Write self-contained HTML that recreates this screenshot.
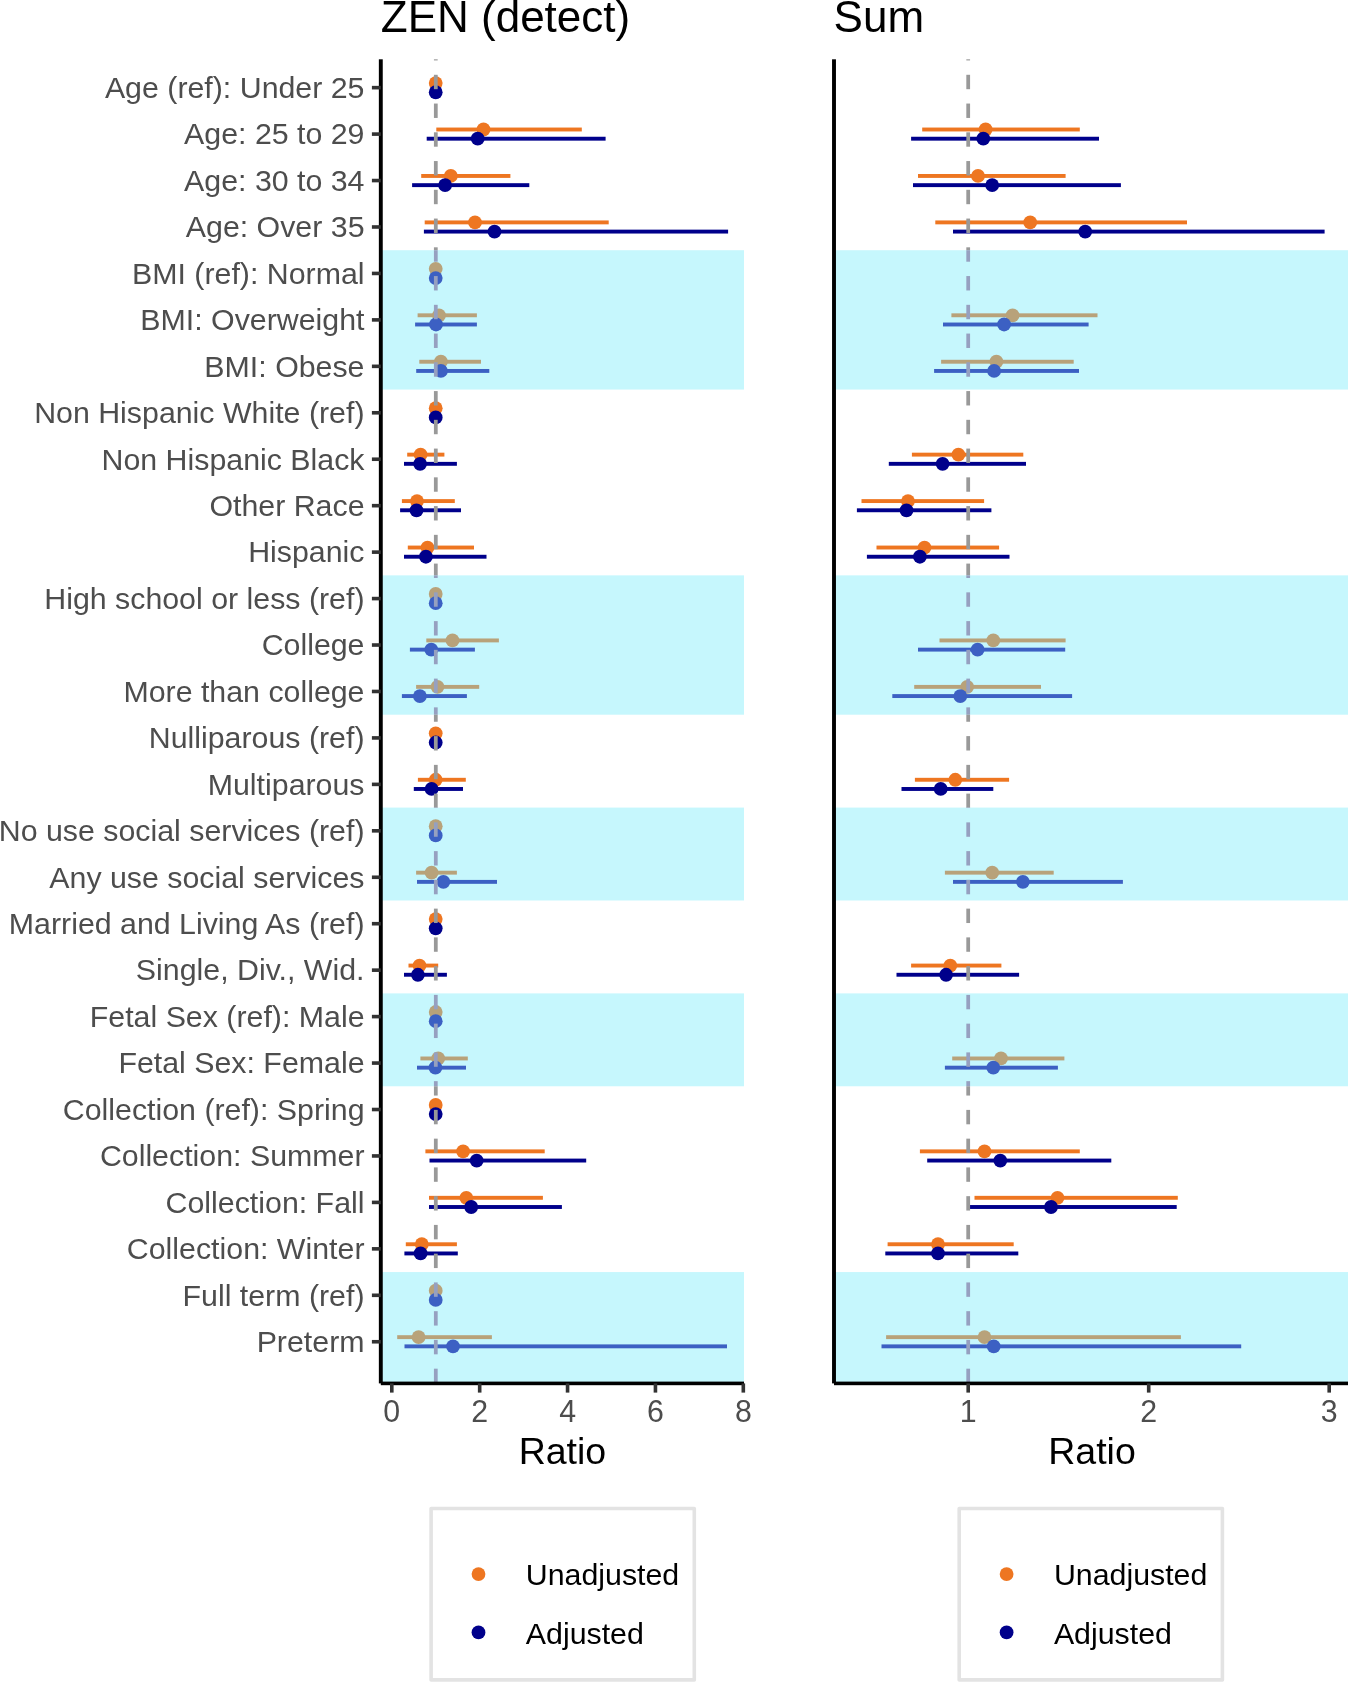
<!DOCTYPE html>
<html><head><meta charset="utf-8"><title>Forest plot</title>
<style>
html,body{margin:0;padding:0;background:#fff;width:1348px;height:1682px;overflow:hidden}
body{position:relative;font-family:"Liberation Sans", sans-serif}
svg text{font-family:"Liberation Sans", sans-serif}
</style></head><body>
<svg width="1348" height="1682" viewBox="0 0 1348 1682" style="position:absolute;left:0;top:0;will-change:transform">
<rect width="1348" height="1682" fill="#fff"/>
<text x="380.8" y="32.0" font-size="44" fill="#000">ZEN (detect)</text>
<text x="833.6" y="31.9" font-size="44" fill="#000">Sum</text>
<rect x="380.80" y="250.22" width="363.20" height="139.34" fill="#C6F7FD"/>
<rect x="380.80" y="575.35" width="363.20" height="139.34" fill="#C6F7FD"/>
<rect x="380.80" y="807.59" width="363.20" height="92.90" fill="#C6F7FD"/>
<rect x="380.80" y="993.39" width="363.20" height="92.90" fill="#C6F7FD"/>
<rect x="380.80" y="1272.07" width="363.20" height="111.33" fill="#C6F7FD"/>
<rect x="834.00" y="250.22" width="516.00" height="139.34" fill="#C6F7FD"/>
<rect x="834.00" y="575.35" width="516.00" height="139.34" fill="#C6F7FD"/>
<rect x="834.00" y="807.59" width="516.00" height="92.90" fill="#C6F7FD"/>
<rect x="834.00" y="993.39" width="516.00" height="92.90" fill="#C6F7FD"/>
<rect x="834.00" y="1272.07" width="516.00" height="111.33" fill="#C6F7FD"/>
<circle cx="435.7" cy="83.05" r="6.9" fill="#EE7621"/>
<circle cx="435.7" cy="92.25" r="6.9" fill="#00008B"/>
<rect x="436.30" y="127.55" width="145.50" height="3.9" fill="#EE7621"/>
<circle cx="483.5" cy="129.50" r="6.9" fill="#EE7621"/>
<rect x="426.70" y="136.75" width="178.90" height="3.9" fill="#00008B"/>
<circle cx="477.7" cy="138.70" r="6.9" fill="#00008B"/>
<rect x="421.20" y="174.00" width="89.20" height="3.9" fill="#EE7621"/>
<circle cx="450.8" cy="175.95" r="6.9" fill="#EE7621"/>
<rect x="412.10" y="183.20" width="117.20" height="3.9" fill="#00008B"/>
<circle cx="445.1" cy="185.15" r="6.9" fill="#00008B"/>
<rect x="424.70" y="220.44" width="184.00" height="3.9" fill="#EE7621"/>
<circle cx="475.0" cy="222.39" r="6.9" fill="#EE7621"/>
<rect x="423.90" y="229.64" width="304.20" height="3.9" fill="#00008B"/>
<circle cx="494.5" cy="231.59" r="6.9" fill="#00008B"/>
<circle cx="435.7" cy="268.84" r="6.9" fill="#B8A27A"/>
<circle cx="435.7" cy="278.04" r="6.9" fill="#3C60C3"/>
<rect x="417.60" y="313.34" width="59.30" height="3.9" fill="#B8A27A"/>
<circle cx="439.0" cy="315.29" r="6.9" fill="#B8A27A"/>
<rect x="415.10" y="322.54" width="61.80" height="3.9" fill="#3C60C3"/>
<circle cx="436.0" cy="324.49" r="6.9" fill="#3C60C3"/>
<rect x="419.30" y="359.79" width="61.70" height="3.9" fill="#B8A27A"/>
<circle cx="440.9" cy="361.74" r="6.9" fill="#B8A27A"/>
<rect x="416.20" y="368.99" width="73.10" height="3.9" fill="#3C60C3"/>
<circle cx="440.9" cy="370.94" r="6.9" fill="#3C60C3"/>
<circle cx="435.7" cy="408.19" r="6.9" fill="#EE7621"/>
<circle cx="435.7" cy="417.39" r="6.9" fill="#00008B"/>
<rect x="407.20" y="452.68" width="37.20" height="3.9" fill="#EE7621"/>
<circle cx="420.6" cy="454.63" r="6.9" fill="#EE7621"/>
<rect x="404.00" y="461.88" width="52.90" height="3.9" fill="#00008B"/>
<circle cx="420.1" cy="463.83" r="6.9" fill="#00008B"/>
<rect x="401.90" y="499.13" width="52.90" height="3.9" fill="#EE7621"/>
<circle cx="417.0" cy="501.08" r="6.9" fill="#EE7621"/>
<rect x="400.10" y="508.33" width="60.90" height="3.9" fill="#00008B"/>
<circle cx="416.5" cy="510.28" r="6.9" fill="#00008B"/>
<rect x="407.80" y="545.58" width="66.20" height="3.9" fill="#EE7621"/>
<circle cx="427.5" cy="547.53" r="6.9" fill="#EE7621"/>
<rect x="404.00" y="554.78" width="82.50" height="3.9" fill="#00008B"/>
<circle cx="425.9" cy="556.73" r="6.9" fill="#00008B"/>
<circle cx="435.7" cy="593.98" r="6.9" fill="#B8A27A"/>
<circle cx="435.7" cy="603.18" r="6.9" fill="#3C60C3"/>
<rect x="426.30" y="638.48" width="72.60" height="3.9" fill="#B8A27A"/>
<circle cx="452.5" cy="640.43" r="6.9" fill="#B8A27A"/>
<rect x="409.90" y="647.68" width="65.00" height="3.9" fill="#3C60C3"/>
<circle cx="431.3" cy="649.63" r="6.9" fill="#3C60C3"/>
<rect x="416.10" y="684.92" width="63.10" height="3.9" fill="#B8A27A"/>
<circle cx="437.5" cy="686.87" r="6.9" fill="#B8A27A"/>
<rect x="401.90" y="694.12" width="65.00" height="3.9" fill="#3C60C3"/>
<circle cx="419.9" cy="696.07" r="6.9" fill="#3C60C3"/>
<circle cx="435.7" cy="733.32" r="6.9" fill="#EE7621"/>
<circle cx="435.7" cy="742.52" r="6.9" fill="#00008B"/>
<rect x="417.90" y="777.82" width="47.90" height="3.9" fill="#EE7621"/>
<circle cx="435.7" cy="779.77" r="6.9" fill="#EE7621"/>
<rect x="413.80" y="787.02" width="49.20" height="3.9" fill="#00008B"/>
<circle cx="431.6" cy="788.97" r="6.9" fill="#00008B"/>
<circle cx="435.7" cy="826.22" r="6.9" fill="#B8A27A"/>
<circle cx="435.7" cy="835.42" r="6.9" fill="#3C60C3"/>
<rect x="416.10" y="870.72" width="40.80" height="3.9" fill="#B8A27A"/>
<circle cx="431.6" cy="872.67" r="6.9" fill="#B8A27A"/>
<rect x="417.00" y="879.92" width="80.00" height="3.9" fill="#3C60C3"/>
<circle cx="443.4" cy="881.87" r="6.9" fill="#3C60C3"/>
<circle cx="435.7" cy="919.11" r="6.9" fill="#EE7621"/>
<circle cx="435.7" cy="928.31" r="6.9" fill="#00008B"/>
<rect x="408.50" y="963.61" width="29.70" height="3.9" fill="#EE7621"/>
<circle cx="419.5" cy="965.56" r="6.9" fill="#EE7621"/>
<rect x="404.00" y="972.81" width="42.90" height="3.9" fill="#00008B"/>
<circle cx="417.9" cy="974.76" r="6.9" fill="#00008B"/>
<circle cx="435.7" cy="1012.01" r="6.9" fill="#B8A27A"/>
<circle cx="435.7" cy="1021.21" r="6.9" fill="#3C60C3"/>
<rect x="420.40" y="1056.51" width="47.40" height="3.9" fill="#B8A27A"/>
<circle cx="438.2" cy="1058.46" r="6.9" fill="#B8A27A"/>
<rect x="417.00" y="1065.71" width="49.00" height="3.9" fill="#3C60C3"/>
<circle cx="435.4" cy="1067.66" r="6.9" fill="#3C60C3"/>
<circle cx="435.7" cy="1104.91" r="6.9" fill="#EE7621"/>
<circle cx="435.7" cy="1114.11" r="6.9" fill="#00008B"/>
<rect x="425.40" y="1149.40" width="119.30" height="3.9" fill="#EE7621"/>
<circle cx="463.1" cy="1151.35" r="6.9" fill="#EE7621"/>
<rect x="429.50" y="1158.60" width="156.70" height="3.9" fill="#00008B"/>
<circle cx="476.7" cy="1160.55" r="6.9" fill="#00008B"/>
<rect x="429.00" y="1195.85" width="113.90" height="3.9" fill="#EE7621"/>
<circle cx="466.3" cy="1197.80" r="6.9" fill="#EE7621"/>
<rect x="429.00" y="1205.05" width="132.90" height="3.9" fill="#00008B"/>
<circle cx="471.2" cy="1207.00" r="6.9" fill="#00008B"/>
<rect x="405.80" y="1242.30" width="51.10" height="3.9" fill="#EE7621"/>
<circle cx="421.8" cy="1244.25" r="6.9" fill="#EE7621"/>
<rect x="404.40" y="1251.50" width="53.40" height="3.9" fill="#00008B"/>
<circle cx="420.6" cy="1253.45" r="6.9" fill="#00008B"/>
<circle cx="435.7" cy="1290.70" r="6.9" fill="#B8A27A"/>
<circle cx="435.7" cy="1299.90" r="6.9" fill="#3C60C3"/>
<rect x="397.20" y="1335.20" width="94.70" height="3.9" fill="#B8A27A"/>
<circle cx="418.6" cy="1337.15" r="6.9" fill="#B8A27A"/>
<rect x="404.50" y="1344.40" width="322.50" height="3.9" fill="#3C60C3"/>
<circle cx="453.0" cy="1346.35" r="6.9" fill="#3C60C3"/>
<rect x="922.20" y="127.55" width="157.60" height="3.9" fill="#EE7621"/>
<circle cx="985.6" cy="129.50" r="6.9" fill="#EE7621"/>
<rect x="911.10" y="136.75" width="187.90" height="3.9" fill="#00008B"/>
<circle cx="983.3" cy="138.70" r="6.9" fill="#00008B"/>
<rect x="918.00" y="174.00" width="147.60" height="3.9" fill="#EE7621"/>
<circle cx="978.0" cy="175.95" r="6.9" fill="#EE7621"/>
<rect x="913.00" y="183.20" width="207.90" height="3.9" fill="#00008B"/>
<circle cx="992.2" cy="185.15" r="6.9" fill="#00008B"/>
<rect x="935.30" y="220.44" width="251.70" height="3.9" fill="#EE7621"/>
<circle cx="1030.2" cy="222.39" r="6.9" fill="#EE7621"/>
<rect x="953.00" y="229.64" width="371.60" height="3.9" fill="#00008B"/>
<circle cx="1085.2" cy="231.59" r="6.9" fill="#00008B"/>
<rect x="951.40" y="313.34" width="146.10" height="3.9" fill="#B8A27A"/>
<circle cx="1012.6" cy="315.29" r="6.9" fill="#B8A27A"/>
<rect x="943.00" y="322.54" width="145.60" height="3.9" fill="#3C60C3"/>
<circle cx="1004.1" cy="324.49" r="6.9" fill="#3C60C3"/>
<rect x="941.10" y="359.79" width="132.60" height="3.9" fill="#B8A27A"/>
<circle cx="996.4" cy="361.74" r="6.9" fill="#B8A27A"/>
<rect x="934.10" y="368.99" width="144.90" height="3.9" fill="#3C60C3"/>
<circle cx="994.1" cy="370.94" r="6.9" fill="#3C60C3"/>
<rect x="911.90" y="452.68" width="111.40" height="3.9" fill="#EE7621"/>
<circle cx="958.4" cy="454.63" r="6.9" fill="#EE7621"/>
<rect x="888.80" y="461.88" width="137.20" height="3.9" fill="#00008B"/>
<circle cx="942.6" cy="463.83" r="6.9" fill="#00008B"/>
<rect x="861.50" y="499.13" width="122.60" height="3.9" fill="#EE7621"/>
<circle cx="908.0" cy="501.08" r="6.9" fill="#EE7621"/>
<rect x="856.90" y="508.33" width="134.50" height="3.9" fill="#00008B"/>
<circle cx="906.5" cy="510.28" r="6.9" fill="#00008B"/>
<rect x="876.50" y="545.58" width="122.60" height="3.9" fill="#EE7621"/>
<circle cx="924.5" cy="547.53" r="6.9" fill="#EE7621"/>
<rect x="866.90" y="554.78" width="142.60" height="3.9" fill="#00008B"/>
<circle cx="919.9" cy="556.73" r="6.9" fill="#00008B"/>
<rect x="939.50" y="638.48" width="126.10" height="3.9" fill="#B8A27A"/>
<circle cx="993.3" cy="640.43" r="6.9" fill="#B8A27A"/>
<rect x="918.00" y="647.68" width="147.20" height="3.9" fill="#3C60C3"/>
<circle cx="977.6" cy="649.63" r="6.9" fill="#3C60C3"/>
<rect x="914.20" y="684.92" width="126.80" height="3.9" fill="#B8A27A"/>
<circle cx="967.2" cy="686.87" r="6.9" fill="#B8A27A"/>
<rect x="892.30" y="694.12" width="179.80" height="3.9" fill="#3C60C3"/>
<circle cx="960.3" cy="696.07" r="6.9" fill="#3C60C3"/>
<rect x="914.90" y="777.82" width="94.20" height="3.9" fill="#EE7621"/>
<circle cx="955.3" cy="779.77" r="6.9" fill="#EE7621"/>
<rect x="901.50" y="787.02" width="91.80" height="3.9" fill="#00008B"/>
<circle cx="940.7" cy="788.97" r="6.9" fill="#00008B"/>
<rect x="944.90" y="870.72" width="108.80" height="3.9" fill="#B8A27A"/>
<circle cx="992.2" cy="872.67" r="6.9" fill="#B8A27A"/>
<rect x="953.00" y="879.92" width="169.90" height="3.9" fill="#3C60C3"/>
<circle cx="1022.9" cy="881.87" r="6.9" fill="#3C60C3"/>
<rect x="911.10" y="963.61" width="90.30" height="3.9" fill="#EE7621"/>
<circle cx="950.3" cy="965.56" r="6.9" fill="#EE7621"/>
<rect x="896.50" y="972.81" width="122.60" height="3.9" fill="#00008B"/>
<circle cx="946.1" cy="974.76" r="6.9" fill="#00008B"/>
<rect x="952.20" y="1056.51" width="112.20" height="3.9" fill="#B8A27A"/>
<circle cx="1001.0" cy="1058.46" r="6.9" fill="#B8A27A"/>
<rect x="944.90" y="1065.71" width="113.00" height="3.9" fill="#3C60C3"/>
<circle cx="993.3" cy="1067.66" r="6.9" fill="#3C60C3"/>
<rect x="919.90" y="1149.40" width="159.90" height="3.9" fill="#EE7621"/>
<circle cx="984.5" cy="1151.35" r="6.9" fill="#EE7621"/>
<rect x="927.20" y="1158.60" width="184.10" height="3.9" fill="#00008B"/>
<circle cx="1000.3" cy="1160.55" r="6.9" fill="#00008B"/>
<rect x="974.50" y="1195.85" width="203.30" height="3.9" fill="#EE7621"/>
<circle cx="1057.5" cy="1197.80" r="6.9" fill="#EE7621"/>
<rect x="968.40" y="1205.05" width="208.30" height="3.9" fill="#00008B"/>
<circle cx="1051.0" cy="1207.00" r="6.9" fill="#00008B"/>
<rect x="887.60" y="1242.30" width="126.10" height="3.9" fill="#EE7621"/>
<circle cx="938.0" cy="1244.25" r="6.9" fill="#EE7621"/>
<rect x="885.30" y="1251.50" width="133.00" height="3.9" fill="#00008B"/>
<circle cx="938.0" cy="1253.45" r="6.9" fill="#00008B"/>
<rect x="886.10" y="1335.20" width="294.80" height="3.9" fill="#B8A27A"/>
<circle cx="984.5" cy="1337.15" r="6.9" fill="#B8A27A"/>
<rect x="881.50" y="1344.40" width="359.70" height="3.9" fill="#3C60C3"/>
<circle cx="993.7" cy="1346.35" r="6.9" fill="#3C60C3"/>
<rect x="433.92" y="59.30" width="3.76" height="1.14" fill="#999999"/>
<rect x="433.92" y="74.79" width="3.76" height="14.40" fill="#999999"/>
<rect x="433.92" y="103.55" width="3.76" height="14.40" fill="#999999"/>
<rect x="433.92" y="132.30" width="3.76" height="14.40" fill="#999999"/>
<rect x="433.92" y="161.05" width="3.76" height="14.40" fill="#999999"/>
<rect x="433.92" y="189.80" width="3.76" height="14.40" fill="#999999"/>
<rect x="433.92" y="218.56" width="3.76" height="14.40" fill="#999999"/>
<rect x="433.92" y="247.31" width="3.76" height="2.91" fill="#999999"/>
<rect x="433.92" y="250.22" width="3.76" height="11.49" fill="#96A0C0"/>
<rect x="433.92" y="276.06" width="3.76" height="14.40" fill="#96A0C0"/>
<rect x="433.92" y="304.82" width="3.76" height="14.40" fill="#96A0C0"/>
<rect x="433.92" y="333.57" width="3.76" height="14.40" fill="#96A0C0"/>
<rect x="433.92" y="362.32" width="3.76" height="14.40" fill="#96A0C0"/>
<rect x="433.92" y="391.08" width="3.76" height="14.40" fill="#999999"/>
<rect x="433.92" y="419.83" width="3.76" height="14.40" fill="#999999"/>
<rect x="433.92" y="448.58" width="3.76" height="14.40" fill="#999999"/>
<rect x="433.92" y="477.34" width="3.76" height="14.40" fill="#999999"/>
<rect x="433.92" y="506.09" width="3.76" height="14.40" fill="#999999"/>
<rect x="433.92" y="534.84" width="3.76" height="14.40" fill="#999999"/>
<rect x="433.92" y="563.59" width="3.76" height="11.76" fill="#999999"/>
<rect x="433.92" y="575.35" width="3.76" height="2.64" fill="#96A0C0"/>
<rect x="433.92" y="592.35" width="3.76" height="14.40" fill="#96A0C0"/>
<rect x="433.92" y="621.10" width="3.76" height="14.40" fill="#96A0C0"/>
<rect x="433.92" y="649.85" width="3.76" height="14.40" fill="#96A0C0"/>
<rect x="433.92" y="678.61" width="3.76" height="14.40" fill="#96A0C0"/>
<rect x="433.92" y="707.36" width="3.76" height="7.34" fill="#96A0C0"/>
<rect x="433.92" y="714.70" width="3.76" height="7.06" fill="#999999"/>
<rect x="433.92" y="736.11" width="3.76" height="14.40" fill="#999999"/>
<rect x="433.92" y="764.87" width="3.76" height="14.40" fill="#999999"/>
<rect x="433.92" y="793.62" width="3.76" height="13.98" fill="#999999"/>
<rect x="433.92" y="807.59" width="3.76" height="0.42" fill="#96A0C0"/>
<rect x="433.92" y="822.37" width="3.76" height="14.40" fill="#96A0C0"/>
<rect x="433.92" y="851.12" width="3.76" height="14.40" fill="#96A0C0"/>
<rect x="433.92" y="879.88" width="3.76" height="14.40" fill="#96A0C0"/>
<rect x="433.92" y="908.63" width="3.76" height="14.40" fill="#999999"/>
<rect x="433.92" y="937.38" width="3.76" height="14.40" fill="#999999"/>
<rect x="433.92" y="966.14" width="3.76" height="14.40" fill="#999999"/>
<rect x="433.92" y="994.89" width="3.76" height="14.40" fill="#96A0C0"/>
<rect x="433.92" y="1023.64" width="3.76" height="14.40" fill="#96A0C0"/>
<rect x="433.92" y="1052.39" width="3.76" height="14.40" fill="#96A0C0"/>
<rect x="433.92" y="1081.15" width="3.76" height="5.13" fill="#96A0C0"/>
<rect x="433.92" y="1086.28" width="3.76" height="9.27" fill="#999999"/>
<rect x="433.92" y="1109.90" width="3.76" height="14.40" fill="#999999"/>
<rect x="433.92" y="1138.65" width="3.76" height="14.40" fill="#999999"/>
<rect x="433.92" y="1167.41" width="3.76" height="14.40" fill="#999999"/>
<rect x="433.92" y="1196.16" width="3.76" height="14.40" fill="#999999"/>
<rect x="433.92" y="1224.91" width="3.76" height="14.40" fill="#999999"/>
<rect x="433.92" y="1253.67" width="3.76" height="14.40" fill="#999999"/>
<rect x="433.92" y="1282.42" width="3.76" height="14.40" fill="#96A0C0"/>
<rect x="433.92" y="1311.17" width="3.76" height="14.40" fill="#96A0C0"/>
<rect x="433.92" y="1339.92" width="3.76" height="14.40" fill="#96A0C0"/>
<rect x="433.92" y="1368.68" width="3.76" height="14.40" fill="#96A0C0"/>
<rect x="966.32" y="59.30" width="3.76" height="1.14" fill="#999999"/>
<rect x="966.32" y="74.79" width="3.76" height="14.40" fill="#999999"/>
<rect x="966.32" y="103.55" width="3.76" height="14.40" fill="#999999"/>
<rect x="966.32" y="132.30" width="3.76" height="14.40" fill="#999999"/>
<rect x="966.32" y="161.05" width="3.76" height="14.40" fill="#999999"/>
<rect x="966.32" y="189.80" width="3.76" height="14.40" fill="#999999"/>
<rect x="966.32" y="218.56" width="3.76" height="14.40" fill="#999999"/>
<rect x="966.32" y="247.31" width="3.76" height="2.91" fill="#999999"/>
<rect x="966.32" y="250.22" width="3.76" height="11.49" fill="#96A0C0"/>
<rect x="966.32" y="276.06" width="3.76" height="14.40" fill="#96A0C0"/>
<rect x="966.32" y="304.82" width="3.76" height="14.40" fill="#96A0C0"/>
<rect x="966.32" y="333.57" width="3.76" height="14.40" fill="#96A0C0"/>
<rect x="966.32" y="362.32" width="3.76" height="14.40" fill="#96A0C0"/>
<rect x="966.32" y="391.08" width="3.76" height="14.40" fill="#999999"/>
<rect x="966.32" y="419.83" width="3.76" height="14.40" fill="#999999"/>
<rect x="966.32" y="448.58" width="3.76" height="14.40" fill="#999999"/>
<rect x="966.32" y="477.34" width="3.76" height="14.40" fill="#999999"/>
<rect x="966.32" y="506.09" width="3.76" height="14.40" fill="#999999"/>
<rect x="966.32" y="534.84" width="3.76" height="14.40" fill="#999999"/>
<rect x="966.32" y="563.59" width="3.76" height="11.76" fill="#999999"/>
<rect x="966.32" y="575.35" width="3.76" height="2.64" fill="#96A0C0"/>
<rect x="966.32" y="592.35" width="3.76" height="14.40" fill="#96A0C0"/>
<rect x="966.32" y="621.10" width="3.76" height="14.40" fill="#96A0C0"/>
<rect x="966.32" y="649.85" width="3.76" height="14.40" fill="#96A0C0"/>
<rect x="966.32" y="678.61" width="3.76" height="14.40" fill="#96A0C0"/>
<rect x="966.32" y="707.36" width="3.76" height="7.34" fill="#96A0C0"/>
<rect x="966.32" y="714.70" width="3.76" height="7.06" fill="#999999"/>
<rect x="966.32" y="736.11" width="3.76" height="14.40" fill="#999999"/>
<rect x="966.32" y="764.87" width="3.76" height="14.40" fill="#999999"/>
<rect x="966.32" y="793.62" width="3.76" height="13.98" fill="#999999"/>
<rect x="966.32" y="807.59" width="3.76" height="0.42" fill="#96A0C0"/>
<rect x="966.32" y="822.37" width="3.76" height="14.40" fill="#96A0C0"/>
<rect x="966.32" y="851.12" width="3.76" height="14.40" fill="#96A0C0"/>
<rect x="966.32" y="879.88" width="3.76" height="14.40" fill="#96A0C0"/>
<rect x="966.32" y="908.63" width="3.76" height="14.40" fill="#999999"/>
<rect x="966.32" y="937.38" width="3.76" height="14.40" fill="#999999"/>
<rect x="966.32" y="966.14" width="3.76" height="14.40" fill="#999999"/>
<rect x="966.32" y="994.89" width="3.76" height="14.40" fill="#96A0C0"/>
<rect x="966.32" y="1023.64" width="3.76" height="14.40" fill="#96A0C0"/>
<rect x="966.32" y="1052.39" width="3.76" height="14.40" fill="#96A0C0"/>
<rect x="966.32" y="1081.15" width="3.76" height="5.13" fill="#96A0C0"/>
<rect x="966.32" y="1086.28" width="3.76" height="9.27" fill="#999999"/>
<rect x="966.32" y="1109.90" width="3.76" height="14.40" fill="#999999"/>
<rect x="966.32" y="1138.65" width="3.76" height="14.40" fill="#999999"/>
<rect x="966.32" y="1167.41" width="3.76" height="14.40" fill="#999999"/>
<rect x="966.32" y="1196.16" width="3.76" height="14.40" fill="#999999"/>
<rect x="966.32" y="1224.91" width="3.76" height="14.40" fill="#999999"/>
<rect x="966.32" y="1253.67" width="3.76" height="14.40" fill="#999999"/>
<rect x="966.32" y="1282.42" width="3.76" height="14.40" fill="#96A0C0"/>
<rect x="966.32" y="1311.17" width="3.76" height="14.40" fill="#96A0C0"/>
<rect x="966.32" y="1339.92" width="3.76" height="14.40" fill="#96A0C0"/>
<rect x="966.32" y="1368.68" width="3.76" height="14.40" fill="#96A0C0"/>
<rect x="378.85" y="59.3" width="3.9" height="1324.10" fill="#000"/>
<rect x="380.80" y="1381.60" width="363.20" height="3.6" fill="#000"/>
<rect x="832.05" y="59.3" width="3.9" height="1324.10" fill="#000"/>
<rect x="834.00" y="1381.60" width="516.00" height="3.6" fill="#000"/>
<rect x="371.9" y="85.85" width="8.90" height="3.6" fill="#333"/>
<text x="364.5" y="97.95" font-size="30.34" fill="#4D4D4D" text-anchor="end">Age (ref): Under 25</text>
<rect x="371.9" y="132.30" width="8.90" height="3.6" fill="#333"/>
<text x="364.5" y="144.40" font-size="30.34" fill="#4D4D4D" text-anchor="end">Age: 25 to 29</text>
<rect x="371.9" y="178.75" width="8.90" height="3.6" fill="#333"/>
<text x="364.5" y="190.85" font-size="30.34" fill="#4D4D4D" text-anchor="end">Age: 30 to 34</text>
<rect x="371.9" y="225.19" width="8.90" height="3.6" fill="#333"/>
<text x="364.5" y="237.29" font-size="30.34" fill="#4D4D4D" text-anchor="end">Age: Over 35</text>
<rect x="371.9" y="271.64" width="8.90" height="3.6" fill="#333"/>
<text x="364.5" y="283.74" font-size="30.34" fill="#4D4D4D" text-anchor="end">BMI (ref): Normal</text>
<rect x="371.9" y="318.09" width="8.90" height="3.6" fill="#333"/>
<text x="364.5" y="330.19" font-size="30.34" fill="#4D4D4D" text-anchor="end">BMI: Overweight</text>
<rect x="371.9" y="364.54" width="8.90" height="3.6" fill="#333"/>
<text x="364.5" y="376.64" font-size="30.34" fill="#4D4D4D" text-anchor="end">BMI: Obese</text>
<rect x="371.9" y="410.99" width="8.90" height="3.6" fill="#333"/>
<text x="364.5" y="423.09" font-size="30.34" fill="#4D4D4D" text-anchor="end">Non Hispanic White (ref)</text>
<rect x="371.9" y="457.43" width="8.90" height="3.6" fill="#333"/>
<text x="364.5" y="469.53" font-size="30.34" fill="#4D4D4D" text-anchor="end">Non Hispanic Black</text>
<rect x="371.9" y="503.88" width="8.90" height="3.6" fill="#333"/>
<text x="364.5" y="515.98" font-size="30.34" fill="#4D4D4D" text-anchor="end">Other Race</text>
<rect x="371.9" y="550.33" width="8.90" height="3.6" fill="#333"/>
<text x="364.5" y="562.43" font-size="30.34" fill="#4D4D4D" text-anchor="end">Hispanic</text>
<rect x="371.9" y="596.78" width="8.90" height="3.6" fill="#333"/>
<text x="364.5" y="608.88" font-size="30.34" fill="#4D4D4D" text-anchor="end">High school or less (ref)</text>
<rect x="371.9" y="643.23" width="8.90" height="3.6" fill="#333"/>
<text x="364.5" y="655.33" font-size="30.34" fill="#4D4D4D" text-anchor="end">College</text>
<rect x="371.9" y="689.67" width="8.90" height="3.6" fill="#333"/>
<text x="364.5" y="701.77" font-size="30.34" fill="#4D4D4D" text-anchor="end">More than college</text>
<rect x="371.9" y="736.12" width="8.90" height="3.6" fill="#333"/>
<text x="364.5" y="748.22" font-size="30.34" fill="#4D4D4D" text-anchor="end">Nulliparous (ref)</text>
<rect x="371.9" y="782.57" width="8.90" height="3.6" fill="#333"/>
<text x="364.5" y="794.67" font-size="30.34" fill="#4D4D4D" text-anchor="end">Multiparous</text>
<rect x="371.9" y="829.02" width="8.90" height="3.6" fill="#333"/>
<text x="364.5" y="841.12" font-size="30.34" fill="#4D4D4D" text-anchor="end">No use social services (ref)</text>
<rect x="371.9" y="875.47" width="8.90" height="3.6" fill="#333"/>
<text x="364.5" y="887.57" font-size="30.34" fill="#4D4D4D" text-anchor="end">Any use social services</text>
<rect x="371.9" y="921.91" width="8.90" height="3.6" fill="#333"/>
<text x="364.5" y="934.01" font-size="30.34" fill="#4D4D4D" text-anchor="end">Married and Living As (ref)</text>
<rect x="371.9" y="968.36" width="8.90" height="3.6" fill="#333"/>
<text x="364.5" y="980.46" font-size="30.34" fill="#4D4D4D" text-anchor="end">Single, Div., Wid.</text>
<rect x="371.9" y="1014.81" width="8.90" height="3.6" fill="#333"/>
<text x="364.5" y="1026.91" font-size="30.34" fill="#4D4D4D" text-anchor="end">Fetal Sex (ref): Male</text>
<rect x="371.9" y="1061.26" width="8.90" height="3.6" fill="#333"/>
<text x="364.5" y="1073.36" font-size="30.34" fill="#4D4D4D" text-anchor="end">Fetal Sex: Female</text>
<rect x="371.9" y="1107.71" width="8.90" height="3.6" fill="#333"/>
<text x="364.5" y="1119.81" font-size="30.34" fill="#4D4D4D" text-anchor="end">Collection (ref): Spring</text>
<rect x="371.9" y="1154.15" width="8.90" height="3.6" fill="#333"/>
<text x="364.5" y="1166.25" font-size="30.34" fill="#4D4D4D" text-anchor="end">Collection: Summer</text>
<rect x="371.9" y="1200.60" width="8.90" height="3.6" fill="#333"/>
<text x="364.5" y="1212.70" font-size="30.34" fill="#4D4D4D" text-anchor="end">Collection: Fall</text>
<rect x="371.9" y="1247.05" width="8.90" height="3.6" fill="#333"/>
<text x="364.5" y="1259.15" font-size="30.34" fill="#4D4D4D" text-anchor="end">Collection: Winter</text>
<rect x="371.9" y="1293.50" width="8.90" height="3.6" fill="#333"/>
<text x="364.5" y="1305.60" font-size="30.34" fill="#4D4D4D" text-anchor="end">Full term (ref)</text>
<rect x="371.9" y="1339.95" width="8.90" height="3.6" fill="#333"/>
<text x="364.5" y="1352.05" font-size="30.34" fill="#4D4D4D" text-anchor="end">Preterm</text>
<rect x="390.00" y="1383.40" width="3.6" height="9.2" fill="#333"/>
<text transform="translate(391.80,1421.9) scale(1,1.035)" font-size="30.34" fill="#4D4D4D" text-anchor="middle">0</text>
<rect x="477.88" y="1383.40" width="3.6" height="9.2" fill="#333"/>
<text transform="translate(479.68,1421.9) scale(1,1.035)" font-size="30.34" fill="#4D4D4D" text-anchor="middle">2</text>
<rect x="565.76" y="1383.40" width="3.6" height="9.2" fill="#333"/>
<text transform="translate(567.56,1421.9) scale(1,1.035)" font-size="30.34" fill="#4D4D4D" text-anchor="middle">4</text>
<rect x="653.64" y="1383.40" width="3.6" height="9.2" fill="#333"/>
<text transform="translate(655.44,1421.9) scale(1,1.035)" font-size="30.34" fill="#4D4D4D" text-anchor="middle">6</text>
<rect x="741.52" y="1383.40" width="3.6" height="9.2" fill="#333"/>
<text transform="translate(743.32,1421.9) scale(1,1.035)" font-size="30.34" fill="#4D4D4D" text-anchor="middle">8</text>
<rect x="966.40" y="1383.40" width="3.6" height="9.2" fill="#333"/>
<text transform="translate(968.20,1421.9) scale(1,1.035)" font-size="30.34" fill="#4D4D4D" text-anchor="middle">1</text>
<rect x="1146.90" y="1383.40" width="3.6" height="9.2" fill="#333"/>
<text transform="translate(1148.70,1421.9) scale(1,1.035)" font-size="30.34" fill="#4D4D4D" text-anchor="middle">2</text>
<rect x="1327.40" y="1383.40" width="3.6" height="9.2" fill="#333"/>
<text transform="translate(1329.20,1421.9) scale(1,1.035)" font-size="30.34" fill="#4D4D4D" text-anchor="middle">3</text>
<text x="562.4" y="1464.0" font-size="37.5" fill="#000" text-anchor="middle">Ratio</text>
<text x="1092.0" y="1464.0" font-size="37.5" fill="#000" text-anchor="middle">Ratio</text>
<rect x="431.10" y="1508.50" width="263.20" height="171.40" fill="#fff" stroke="#E3E3E3" stroke-width="3.6" stroke-linejoin="round"/>
<circle cx="478.50" cy="1574.1" r="6.9" fill="#EE7621"/>
<circle cx="478.50" cy="1632.4" r="6.9" fill="#00008B"/>
<text x="525.80" y="1585.3" font-size="30.34" fill="#000">Unadjusted</text>
<text x="525.80" y="1644.0" font-size="30.34" fill="#000">Adjusted</text>
<rect x="959.20" y="1508.50" width="263.20" height="171.40" fill="#fff" stroke="#E3E3E3" stroke-width="3.6" stroke-linejoin="round"/>
<circle cx="1006.60" cy="1574.1" r="6.9" fill="#EE7621"/>
<circle cx="1006.60" cy="1632.4" r="6.9" fill="#00008B"/>
<text x="1053.90" y="1585.3" font-size="30.34" fill="#000">Unadjusted</text>
<text x="1053.90" y="1644.0" font-size="30.34" fill="#000">Adjusted</text>
</svg>
</body></html>
